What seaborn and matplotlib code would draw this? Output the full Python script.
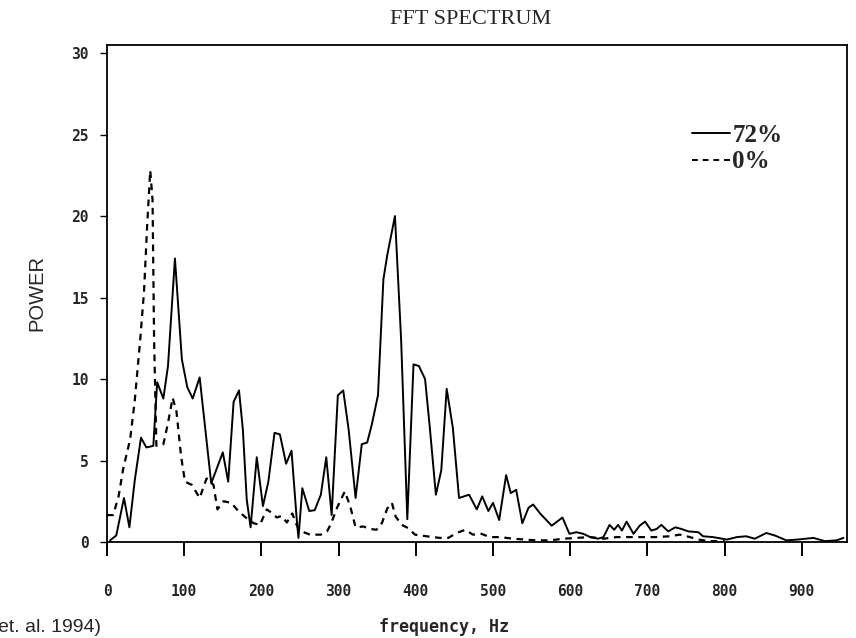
import matplotlib
matplotlib.use("Agg")
import matplotlib.pyplot as plt
import seaborn as sns
import pandas as pd
from matplotlib.lines import Line2D

# ---- data ----
freq_72 = [4, 12, 22, 29, 36, 44, 51, 60, 65, 73, 79, 88, 97, 104, 111, 120, 135, 150, 157,
           164, 171, 176, 181, 186, 194, 202, 209, 217, 224, 232, 239, 246, 248, 253, 262,
           269, 277, 284, 291, 299, 306, 313, 322, 330, 337, 343, 351, 358, 363, 373, 381,
           389, 397, 404, 412, 418, 426, 433, 440, 448, 456, 469, 479, 486, 494, 500, 508,
           517, 523, 530, 538, 546, 552, 561, 576, 590, 599, 608, 617, 626, 636, 643, 651,
           657, 662, 667, 673, 682, 690, 697, 705, 712, 718, 727, 736, 744, 753, 766, 772,
           785, 803, 816, 828, 839, 854, 865, 880, 895, 915, 930, 945, 954]
power_72 = [0.1, 0.4, 2.7, 0.9, 3.8, 6.4, 5.8, 5.9, 9.8, 8.8, 10.8, 17.4, 11.2, 9.5, 8.8, 10.1,
            3.6, 5.5, 3.7, 8.6, 9.3, 6.9, 2.6, 0.9, 5.2, 2.2, 3.7, 6.7, 6.6, 4.8, 5.6, 1.25,
            0.25, 3.3, 1.9, 1.95, 2.9, 5.2, 1.65, 9.0, 9.3, 6.9, 2.7, 6.0, 6.1, 7.2, 9.0, 16.1,
            17.6, 20.0, 12.4, 1.4, 10.9, 10.8, 10.0, 7.1, 2.9, 4.4, 9.4, 7.0, 2.7, 2.9, 2.0,
            2.8, 1.9, 2.4, 1.35, 4.1, 3.0, 3.2, 1.15, 2.1, 2.3, 1.75, 1.0, 1.5, 0.5, 0.6, 0.5,
            0.3, 0.2, 0.3, 1.05, 0.75, 1.05, 0.7, 1.25, 0.5, 1.0, 1.25, 0.7, 0.8, 1.05, 0.65,
            0.9, 0.8, 0.65, 0.6, 0.35, 0.3, 0.15, 0.3, 0.35, 0.2, 0.55, 0.4, 0.1, 0.15, 0.25,
            0.05, 0.1, 0.25]

freq_0 = [0, 8, 15, 21, 30, 36, 43, 48, 52, 56, 59, 61, 64, 73, 79, 85, 90, 96, 101, 110, 120,
          129, 138, 143, 151, 161, 170, 181, 190, 198, 207, 213, 220, 226, 233, 240, 246, 252,
          263, 277, 285, 290, 298, 308, 315, 322, 332, 341, 349, 356, 363, 369, 374, 382, 390,
          399, 414, 431, 442, 453, 464, 474, 485, 496, 509, 526, 556, 574, 591, 608, 626, 643,
          660, 677, 695, 710, 729, 742, 755, 766, 780, 800]
power_0 = [1.65, 1.65, 2.8, 4.5, 6.3, 8.7, 12.4, 15.4, 19.4, 22.8, 21.0, 12.4, 5.9, 6.0, 7.3,
           8.85, 8.0, 5.25, 3.7, 3.5, 2.7, 3.9, 3.5, 2.0, 2.5, 2.4, 1.9, 1.45, 1.15, 1.05, 2.0,
           1.8, 1.5, 1.6, 1.2, 1.75, 1.0, 0.65, 0.45, 0.45, 0.65, 1.1, 2.1, 3.1, 2.2, 0.9, 0.95,
           0.8, 0.75, 1.15, 2.05, 2.4, 1.55, 1.05, 0.85, 0.45, 0.35, 0.25, 0.25, 0.55, 0.75,
           0.45, 0.5, 0.3, 0.3, 0.2, 0.1, 0.1, 0.2, 0.25, 0.3, 0.2, 0.3, 0.3, 0.3, 0.3, 0.35,
           0.45, 0.3, 0.15, 0.05, 0.05]

series_labels = ["72%", "0%"]
x_ticks = [0, 100, 200, 300, 400, 500, 600, 700, 800, 900]
y_ticks = [0, 5, 10, 15, 20, 25, 30]

df72 = pd.DataFrame({"freq": freq_72, "power": power_72})
df0 = pd.DataFrame({"freq": freq_0, "power": power_0})

sns.set_style("ticks")
plt.rcParams["font.family"] = ["DejaVu Sans"]

fig = plt.figure(figsize=(8.56, 6.38), dpi=100)
ax = fig.add_axes([0.125, 0.1505, 0.864, 0.779])

sns.lineplot(data=df72, x="freq", y="power", ax=ax, color="black", lw=1.4,
             estimator=None, sort=False)
sns.lineplot(data=df0, x="freq", y="power", ax=ax, color="black", lw=1.6,
             estimator=None, sort=False, linestyle=(0, (3, 2.5)))

ax.set_xlim(0, 958)
ax.set_ylim(0, 30.5)
ax.set_xticks(x_ticks)
ax.set_yticks(y_ticks)
ax.set_xticklabels([str(t) for t in x_ticks], family="DejaVu Sans Mono",
                   fontweight="bold", fontsize=10.5)
ax.set_yticklabels([str(t) for t in y_ticks], family="DejaVu Sans Mono",
                   fontweight="bold", fontsize=10.5)
ax.tick_params(axis="x", direction="out", length=10, width=1.4, pad=20, color="black")
ax.tick_params(axis="y", direction="out", length=5, width=1.0, pad=8, color="black")
for s in ax.spines.values():
    s.set_color("black")
    s.set_linewidth(1.3)
ax.set_xlabel("")
ax.set_ylabel("POWER", family="Liberation Sans", fontsize=14.5, labelpad=18)

fig.text(0.55, 0.97, "FFT SPECTRUM", family="Liberation Serif", fontsize=16,
         ha="center", va="center")
fig.text(0.519, 0.017, "frequency, Hz", family="DejaVu Sans Mono", fontweight="bold",
         fontsize=12, ha="center", va="center")
fig.text(-0.002, 0.017, "et. al. 1994)", family="Liberation Sans", fontsize=14,
         ha="left", va="center")

handles = [Line2D([], [], color="black", lw=1.4),
           Line2D([], [], color="black", lw=1.4, linestyle=(0, (3, 2.5)))]
leg = ax.legend(handles, series_labels, loc="upper left",
                bbox_to_anchor=(0.797, 0.822), bbox_transform=fig.transFigure,
                frameon=False, handlelength=1.5, handletextpad=0.1,
                labelspacing=0.15, borderaxespad=0,
                prop={"family": "Liberation Serif", "weight": "bold", "size": 18})

fig.savefig("out.png", dpi=100)
